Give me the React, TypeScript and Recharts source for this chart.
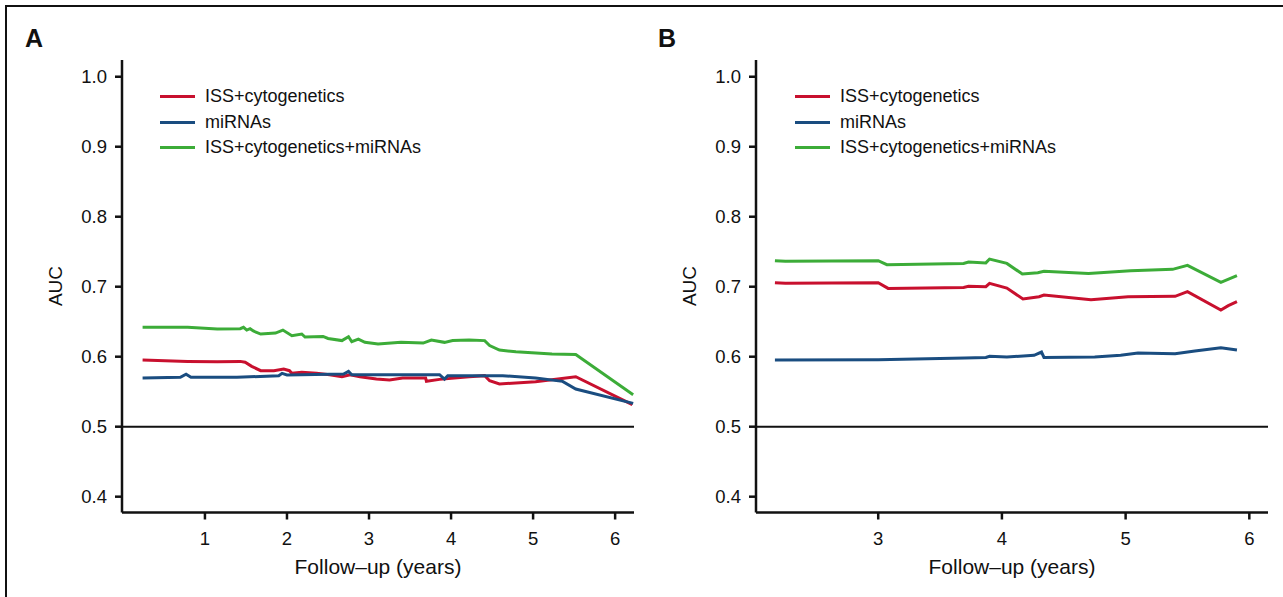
import React from 'react';
import { LineChart, Line, XAxis, YAxis, ReferenceLine } from 'recharts';

// Panel A
const aIssYears = [0.24, 0.79, 1.15, 1.43, 1.49, 1.57, 1.68, 1.84, 1.96, 2.03, 2.06, 2.18, 2.36, 2.52, 2.67, 2.77, 2.89, 3.09, 3.25, 3.41, 3.69, 3.7, 3.86, 4.22, 4.41, 4.47, 4.59, 5.03, 5.52, 6.21];
const aIssAuc = [0.5952, 0.5933, 0.5929, 0.5933, 0.592, 0.5862, 0.58, 0.58, 0.5824, 0.58, 0.5762, 0.5776, 0.5762, 0.5743, 0.5714, 0.5743, 0.5714, 0.568, 0.5667, 0.5695, 0.5695, 0.5648, 0.5676, 0.5714, 0.5729, 0.5657, 0.561, 0.5643, 0.5714, 0.5314];
const aMirYears = [0.24, 0.7, 0.77, 0.83, 1.39, 1.9, 1.94, 2.0, 2.69, 2.75, 2.79, 3.86, 3.92, 3.96, 4.43, 4.63, 5.03, 5.36, 5.52, 6.22];
const aMirAuc = [0.5695, 0.5705, 0.575, 0.5705, 0.5705, 0.5729, 0.5762, 0.574, 0.5752, 0.579, 0.5743, 0.5743, 0.568, 0.5729, 0.5729, 0.5729, 0.5695, 0.5648, 0.5538, 0.5333];
const aAllYears = [0.24, 0.79, 1.15, 1.43, 1.47, 1.51, 1.55, 1.59, 1.68, 1.86, 1.95, 2.06, 2.18, 2.22, 2.44, 2.5, 2.67, 2.75, 2.79, 2.87, 2.95, 3.11, 3.39, 3.66, 3.76, 3.92, 4.02, 4.22, 4.41, 4.47, 4.59, 4.79, 5.23, 5.52, 6.22];
const aAllAuc = [0.642, 0.642, 0.6395, 0.64, 0.642, 0.638, 0.64, 0.6367, 0.6324, 0.6338, 0.638, 0.63, 0.6324, 0.628, 0.629, 0.626, 0.623, 0.6286, 0.6214, 0.625, 0.6205, 0.618, 0.6205, 0.6195, 0.6238, 0.6205, 0.623, 0.624, 0.623, 0.616, 0.6095, 0.607, 0.6038, 0.603, 0.5457];

// Panel B
const bIssYears = [2.165, 2.25, 3.0, 3.08, 3.69, 3.73, 3.87, 3.9, 4.04, 4.17, 4.3, 4.34, 4.72, 5.02, 5.4, 5.5, 5.77, 5.83, 5.9];
const bIssAuc = [0.7057, 0.7048, 0.7057, 0.6976, 0.699, 0.7005, 0.7, 0.7048, 0.6981, 0.6824, 0.6857, 0.6881, 0.6814, 0.6857, 0.6862, 0.6929, 0.6667, 0.6729, 0.6786];
const bMirYears = [2.165, 3.0, 3.7, 3.87, 3.9, 4.04, 4.26, 4.32, 4.34, 4.75, 4.96, 5.1, 5.4, 5.56, 5.77, 5.9];
const bMirAuc = [0.5952, 0.5957, 0.598, 0.599, 0.6005, 0.5995, 0.602, 0.6067, 0.599, 0.5995, 0.602, 0.6052, 0.6043, 0.6081, 0.6129, 0.6095];
const bAllYears = [2.165, 2.25, 3.0, 3.07, 3.69, 3.73, 3.87, 3.9, 4.04, 4.165, 4.29, 4.34, 4.7, 5.04, 5.38, 5.5, 5.77, 5.9];
const bAllAuc = [0.7371, 0.7362, 0.7371, 0.7314, 0.7333, 0.7352, 0.734, 0.7395, 0.7333, 0.7181, 0.72, 0.722, 0.719, 0.7229, 0.7248, 0.7305, 0.7062, 0.7157];

const seriesNames = ['ISS+cytogenetics', 'miRNAs', 'ISS+cytogenetics+miRNAs'];
const seriesColors = ['#c8102e', '#1a4d80', '#3cac38'];
const yTicks = [0.4, 0.5, 0.6, 0.7, 0.8, 0.9, 1.0];
const aXTicks = [1, 2, 3, 4, 5, 6];
const bXTicks = [3, 4, 5, 6];

const zip = (xs: number[], ys: number[]) => xs.map((t, i) => ({ t, v: ys[i] }));

const FONT = '"Liberation Sans", Arial, sans-serif';
const tickStyle = { fill: '#111', fontSize: 18.5, fontFamily: FONT };

const LegendBox = ({ left }: { left: number }) => (
  <div style={{ position: 'absolute', left, top: 84, fontFamily: FONT, fontSize: 18, color: '#111' }}>
    {seriesNames.map((name, i) => (
      <div key={name} style={{ display: 'flex', alignItems: 'center', height: 25.5 }}>
        <div style={{ width: 35, height: 3, background: seriesColors[i], marginRight: 10 }} />
        <span>{name}</span>
      </div>
    ))}
  </div>
);

interface PanelProps {
  series: { t: number; v: number }[][];
  domain: [number, number];
  ticks: number[];
  width: number;
  marginLeft: number;
  marginRight: number;
}

const Panel: React.FC<PanelProps> = ({ series, domain, ticks, width, marginLeft, marginRight }) => (
  <LineChart
    width={width}
    height={597}
    margin={{ top: 60, left: marginLeft, right: marginRight, bottom: 44.5 }}
  >
    <XAxis
      type="number"
      dataKey="t"
      domain={domain}
      ticks={ticks}
      allowDataOverflow
      height={40}
      tick={tickStyle}
      tickSize={7}
      tickMargin={12}
      axisLine={{ stroke: '#111', strokeWidth: 2.5 }}
      tickLine={{ stroke: '#111', strokeWidth: 2.5 }}
    />
    <YAxis
      type="number"
      domain={[0.3774, 1.0239]}
      ticks={yTicks}
      allowDataOverflow
      width={60}
      tick={tickStyle}
      tickSize={7}
      tickMargin={8}
      tickFormatter={(v: number) => v.toFixed(1)}
      axisLine={{ stroke: '#111', strokeWidth: 2.5 }}
      tickLine={{ stroke: '#111', strokeWidth: 2.5 }}
    />
    <ReferenceLine y={0.5} stroke="#111" strokeWidth={2} />
    {series.map((d, i) => (
      <Line
        key={seriesNames[i]}
        data={d}
        dataKey="v"
        name={seriesNames[i]}
        type="linear"
        stroke={seriesColors[i]}
        strokeWidth={3}
        dot={false}
        isAnimationActive={false}
      />
    ))}
  </LineChart>
);

const App: React.FC = () => {
  const aSeries = [zip(aIssYears, aIssAuc), zip(aMirYears, aMirAuc), zip(aAllYears, aAllAuc)];
  const bSeries = [zip(bIssYears, bIssAuc), zip(bMirYears, bMirAuc), zip(bAllYears, bAllAuc)];

  return (
    <div style={{ position: 'relative', width: 1283, height: 597, overflow: 'hidden', background: '#fff' }}>
      <style>{'body{margin:0}'}</style>
      <div
        style={{
          position: 'absolute',
          left: 5,
          top: 5,
          width: 1300,
          height: 620,
          border: '2.4px solid #111',
        }}
      />
      <div style={{ position: 'absolute', left: 0, top: 0 }}>
        <Panel series={aSeries} domain={[-0.011, 6.23]} ticks={aXTicks} width={660} marginLeft={62} marginRight={26} />
      </div>
      <div style={{ position: 'absolute', left: 640, top: 0 }}>
        <Panel series={bSeries} domain={[2.012, 6.151]} ticks={bXTicks} width={643} marginLeft={56} marginRight={15} />
      </div>
      <LegendBox left={160} />
      <LegendBox left={795} />
      <svg width={1283} height={597} style={{ position: 'absolute', left: 0, top: 0, pointerEvents: 'none' }}>
        <g fontFamily={FONT} fill="#111">
          <text x={25} y={47} fontSize={25} fontWeight="bold">A</text>
          <text x={658} y={47} fontSize={25} fontWeight="bold">B</text>
          <text x={62} y={286} fontSize={19} textAnchor="middle" transform="rotate(-90 62 286)">AUC</text>
          <text x={696} y={286} fontSize={19} textAnchor="middle" transform="rotate(-90 696 286)">AUC</text>
          <text x={378} y={574} fontSize={21} textAnchor="middle">Follow–up (years)</text>
          <text x={1012} y={574} fontSize={21} textAnchor="middle">Follow–up (years)</text>
        </g>
      </svg>
    </div>
  );
};

export default App;
